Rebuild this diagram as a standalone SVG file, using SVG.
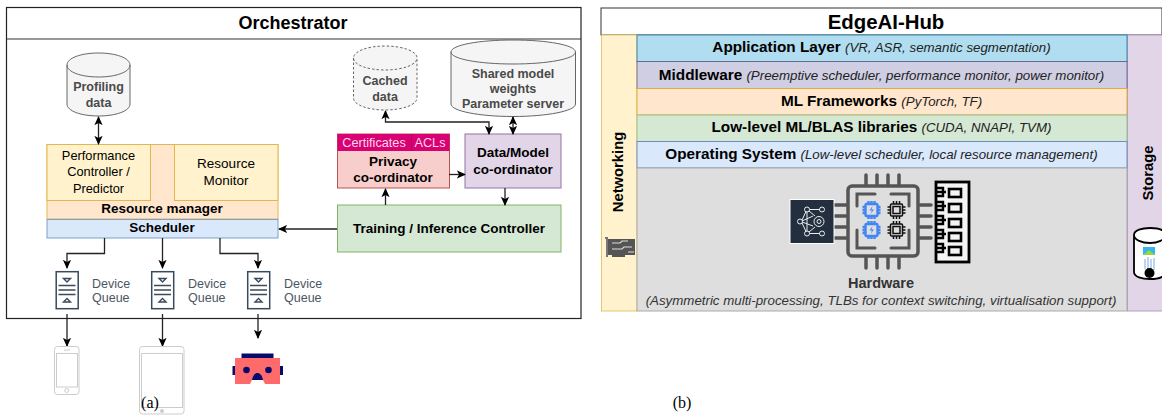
<svg xmlns="http://www.w3.org/2000/svg" width="1162" height="417" viewBox="0 0 1162 417">
<style>
text{font-family:"Liberation Sans",Arial,sans-serif;text-anchor:middle;fill:#000}
.b{font-weight:700}
.t12{font-size:12.8px}.t13{font-size:13.500px}
.l{font-size:15.300px;font-weight:700}
.i{font-size:13.300px;font-style:italic;font-weight:400;fill:#222}
.g{fill:#4a4a4a;font-weight:700;font-size:12.5px}
.dq{font-size:12.5px;fill:#4b5563;text-anchor:start}
.c{fill:none;stroke:#222;stroke-width:1.3}
.cyl{fill:#f5f5f5;stroke:#666;stroke-width:1}
.q{fill:none;stroke:#3a4a5c;stroke-width:1.4}
.hw{fill:none;stroke:#555;stroke-width:3.500;stroke-linecap:round}
.br{fill:none;stroke:#555;stroke-width:3;stroke-linecap:round}
.mem{fill:none;stroke:#000;stroke-width:2.600}
.blu{fill:none;stroke:#4285f4;stroke-width:2.400}
.blk{fill:none;stroke:#111;stroke-width:1.500}
.w{fill:none;stroke:#e8edf2;stroke-width:1}
</style>
<defs>
<marker id="a" viewBox="0 0 10 10" refX="9" refY="5" markerWidth="7" markerHeight="7" orient="auto-start-reverse"><path d="M0 0.5L10 5L0 9.5L2.5 5Z" fill="#000"/></marker>
<g id="dqi">
<rect x="0.7" y="0.7" width="22" height="37" fill="#fff" stroke="#3a4a5c" stroke-width="1.5"/>
<path d="M3 14.5H20M3 19H20M3 23.5H20" class="q"/>
<path d="M8 7.5H15L11.5 11Z M8 31H15L11.5 27.5Z" class="q"/>
</g>
<g id="chip"><rect x="0" y="0" width="12" height="12" rx="1"/><path d="M-3 3H0M-3 6H0M-3 9H0M12 3H15M12 6H15M12 9H15M3 -3V0M6 -3V0M9 -3V0M3 12V15M6 12V15M9 12V15"/></g>
</defs>

<g id="orchestrator">
<rect x="6.500" y="7.500" width="574.500" height="311" fill="#fff" stroke="#222" stroke-width="1.200"/>
<path d="M6.500 39H581" stroke="#333" stroke-width="1.200"/>
<text x="293" y="29" class="b" font-size="18">Orchestrator</text>
</g>

<g id="profiling-data">
<path class="cyl" d="M67 65V104C67 111 81 116 98.500 116S130 111 130 104V65C130 58 116 53 98.500 53S67 58 67 65C67 72 81 77 98.500 77S130 72 130 65"/>
<text x="98.500" y="91" class="g">Profiling</text><text x="98.500" y="107" class="g">data</text>
</g>

<g id="resource-manager">
<rect x="47" y="144.500" width="231" height="74.500" fill="#ffe6cc" stroke="#e3b74f" stroke-width="1"/>
<text x="162" y="213" class="b t13">Resource manager</text>
</g>
<g id="performance-controller">
<rect x="47" y="144.500" width="103.500" height="56" fill="#fff2cc" stroke="#e3b74f" stroke-width="1"/>
<text x="98.500" y="160" class="t12">Performance</text><text x="98.500" y="176" class="t12">Controller /</text><text x="98.500" y="193" class="t12">Predictor</text>
</g>
<g id="resource-monitor">
<rect x="174.500" y="144.500" width="103.500" height="56" fill="#fff2cc" stroke="#e3b74f" stroke-width="1"/>
<text x="226" y="168" class="t13">Resource</text><text x="226" y="185" class="t13">Monitor</text>
</g>
<g id="scheduler">
<rect x="47" y="219.500" width="231" height="18.500" fill="#dae8fc" stroke="#7f9fc9" stroke-width="1"/>
<text x="162" y="232" class="b t13">Scheduler</text>
</g>

<g id="cached-data">
<path d="M353.500 58V98C353.500 105 368 110 385 110S417 105 417 98V58C417 51 402 46 385 46S353.500 51 353.500 58C353.500 65 368 70 385 70S417 65 417 58" fill="#f5f5f5" stroke="#666" stroke-width="1" stroke-dasharray="2.500 2"/>
<text x="385" y="85" class="g">Cached</text><text x="385" y="101" class="g">data</text>
</g>
<g id="shared-model-weights">
<path class="cyl" d="M451 52V104C451 111 479 116.500 513 116.500S575.500 111 575.500 104V52C575.500 45 547 40 513 40S451 45 451 52C451 59 479 64 513 64S575.500 59 575.500 52"/>
<text x="513" y="78" class="g">Shared model</text><text x="513" y="93" class="g">weights</text><text x="513" y="108" class="g">Parameter server</text>
</g>

<g id="privacy-coordinator">
<rect x="337.500" y="134" width="112" height="54" fill="#f8cecc" stroke="#b85450" stroke-width="1"/>
<rect x="337.500" y="134" width="112" height="17" fill="#d80073"/>
<path d="M411.500 134V151" stroke="#b0005d" stroke-width="1"/>
<text x="374" y="147" font-size="12.700" style="fill:#ffd9ea">Certificates</text><text x="430" y="147" font-size="12.700" style="fill:#ffd9ea">ACLs</text>
<text x="393" y="166" class="b t13">Privacy</text><text x="393" y="182" class="b t13">co-ordinator</text>
</g>
<g id="data-model-coordinator">
<rect x="465" y="134" width="96" height="54" fill="#e1d5e7" stroke="#9673a6" stroke-width="1"/>
<text x="513" y="157" class="b t13">Data/Model</text><text x="513" y="174" class="b t13">co-ordinator</text>
</g>
<g id="training-controller">
<rect x="337.500" y="205" width="223.500" height="47" fill="#d5e8d4" stroke="#82b366" stroke-width="1"/>
<text x="449" y="233" class="b t13">Training / Inference Controller</text>
</g>

<g id="device-queue-1"><use href="#dqi" x="55.500" y="271"/><text x="92" y="288" class="dq">Device</text><text x="92" y="302" class="dq">Queue</text></g>
<g id="device-queue-2"><use href="#dqi" x="151" y="271"/><text x="188" y="288" class="dq">Device</text><text x="188" y="302" class="dq">Queue</text></g>
<g id="device-queue-3"><use href="#dqi" x="247" y="271"/><text x="284" y="288" class="dq">Device</text><text x="284" y="302" class="dq">Queue</text></g>

<g id="connectors">
<path class="c" d="M98.500 117V144" marker-start="url(#a)" marker-end="url(#a)"/>
<path class="c" d="M337 229H279" marker-end="url(#a)"/>
<path class="c" d="M104.500 238V253.500H67V268" marker-end="url(#a)"/>
<path class="c" d="M162.500 238V268" marker-end="url(#a)"/>
<path class="c" d="M220 238V253.500H258V268" marker-end="url(#a)"/>
<path class="c" d="M67 314V346" marker-end="url(#a)"/>
<path class="c" d="M162.500 314V346" marker-end="url(#a)"/>
<path class="c" d="M258 314V338" marker-end="url(#a)"/>
<path class="c" d="M385.500 205V189" marker-end="url(#a)"/>
<path class="c" d="M449 174.500H465" marker-end="url(#a)"/>
<path class="c" d="M505 188V205" marker-end="url(#a)"/>
<path class="c" d="M489 134V122H385.500V111" marker-start="url(#a)" marker-end="url(#a)"/>
<path class="c" d="M513 117V134" marker-start="url(#a)" marker-end="url(#a)"/>
</g>

<g id="phone">
<rect x="54.500" y="346.500" width="24.500" height="48" rx="3" fill="#fff" stroke="#ccc" stroke-width="1"/>
<rect x="56.500" y="353.500" width="21" height="33.500" fill="none" stroke="#ccc" stroke-width="1"/>
<circle cx="66.700" cy="390.500" r="2" fill="none" stroke="#ccc"/><path d="M64 350H70" stroke="#ccc"/>
</g>
<g id="tablet">
<rect x="139.500" y="346.500" width="44.500" height="67.500" rx="3" fill="#fff" stroke="#ccc" stroke-width="1"/>
<rect x="141.500" y="353.500" width="41" height="54" fill="none" stroke="#ccc" stroke-width="1"/>
<circle cx="162" cy="411" r="2" fill="#ccc"/>
</g>
<g id="vr-headset">
<rect x="241.500" y="353.500" width="32" height="5" fill="#0a0a6e"/>
<rect x="232.500" y="366" width="2.800" height="9" fill="#0a0a6e"/><rect x="280" y="366" width="3" height="9" fill="#0a0a6e"/>
<path d="M235 358H280V384H265L263 380H252L250 384H235Z" fill="#ff6b6b"/>
<path d="M252 380C253 375 255 373 257.500 373S262 375 263 380Z" fill="#0a0a6e"/>
<circle cx="246.500" cy="370" r="3.300" fill="#0a0a6e"/><circle cx="268.500" cy="370" r="3.300" fill="#0a0a6e"/>
</g>
<text x="150" y="408" font-size="16" style="font-family:'Liberation Serif',serif">(a)</text>

<g id="edgeai-hub">
<rect x="601" y="8" width="561" height="27" fill="#fff" stroke="#333" stroke-width="1"/>
<text x="886" y="29" class="b" font-size="20.400">EdgeAI-Hub</text>
</g>
<g id="networking">
<rect x="601.500" y="35" width="35.500" height="276" fill="#fff2cc" stroke="#e3c670" stroke-width="1"/>
<text transform="translate(623 172) rotate(-90)" class="b" font-size="14.800">Networking</text>
<path d="M605 237H608V257H606V239H605Z" fill="#777"/><rect x="608" y="239" width="27" height="16" fill="#555"/><rect x="612" y="255" width="13" height="2" fill="#555"/>
<path d="M612 243H620L622 241H628M612 249H622L624 247H632M628 252H634" stroke="#ddd" stroke-width="1.200" fill="none"/>
</g>
<g id="storage">
<rect x="1127.500" y="35" width="35" height="276" fill="#e1d5e7" stroke="#b59cc4" stroke-width="1"/>
<text transform="translate(1153 173) rotate(-90)" class="b" font-size="14.800">Storage</text>
<path d="M1134 235V272C1134 277 1142 279 1150 279S1165 277 1165 272V235C1165 230 1158 228 1150 228S1134 230 1134 235C1134 240 1142 243 1150 243S1165 240 1165 235" fill="#fff" stroke="#000" stroke-width="1.800"/>
<rect x="1143" y="247" width="12" height="8" fill="#35b6e8"/><path d="M1143 255L1149 250L1155 255Z" fill="#9ad63c"/>
<path d="M1145 259V269M1148 257V272M1151 259V269M1154 258V270" stroke="#7aa8e8" fill="none"/>
<circle cx="1149.500" cy="273" r="5" fill="#000"/>
</g>

<g id="application-layer">
<rect x="637" y="35" width="490" height="26.500" fill="#b1ddf0" stroke="#3d87ad" stroke-width="1"/>
<text x="881.500" y="52" class="l">Application Layer <tspan class="i">(VR, ASR, semantic segmentation)</tspan></text>
</g>
<g id="middleware">
<rect x="637" y="61.500" width="490" height="27" fill="#d0cee2" stroke="#56517e" stroke-width="1" stroke-opacity=".7"/>
<text x="881.500" y="80" class="l">Middleware <tspan class="i">(Preemptive scheduler, performance monitor, power monitor)</tspan></text>
</g>
<g id="ml-frameworks">
<rect x="637" y="88.500" width="490" height="26.500" fill="#ffe6cc" stroke="#e3aa3c" stroke-width="1"/>
<text x="881.500" y="106" class="l">ML Frameworks <tspan class="i">(PyTorch, TF)</tspan></text>
</g>
<g id="blas-libraries">
<rect x="637" y="115" width="490" height="26.500" fill="#d5e8d4" stroke="#9cc08a" stroke-width="1"/>
<text x="881.500" y="132" class="l">Low-level ML/BLAS libraries <tspan class="i">(CUDA, NNAPI, TVM)</tspan></text>
</g>
<g id="operating-system">
<rect x="637" y="141.500" width="490" height="26.500" fill="#dae8fc" stroke="#6c8ebf" stroke-width="1"/>
<text x="881.500" y="159" class="l">Operating System <tspan class="i">(Low-level scheduler, local resource management)</tspan></text>
</g>
<g id="hardware">
<rect x="637" y="168" width="490" height="143" fill="#dedede" stroke="#aaa" stroke-width="1"/>
<text x="881" y="288" class="b" font-size="14.500" style="fill:#333">Hardware</text>
<text x="881" y="305" class="i" style="fill:#333">(Asymmetric multi-processing, TLBs for context switching, virtualisation support)</text>
<rect x="848" y="186" width="70" height="70" rx="4" fill="none" stroke="#555" stroke-width="3.500"/>
<path class="hw" d="M866 175V185M877 175V185M888 175V185M899 175V185M866 258V268M877 258V268M888 258V268M899 258V268M835 205H846M835 216H846M835 227H846M835 238H846M920 205H931M920 216H931M920 227H931M920 238H931"/>
<path class="br" d="M875 194H857V206M891 194H909V206M875 248H857V230M891 248H909V230"/>
<g class="blu"><use href="#chip" x="865.500" y="204"/><use href="#chip" x="865.500" y="224"/></g>
<path d="M872.500 206L869.500 210.500H872L870.500 214L874 209.500H871.500ZM872.500 226L869.500 230.500H872L870.500 234L874 229.500H871.500Z" fill="#4285f4"/>
<g class="blk"><use href="#chip" x="890.500" y="204"/><use href="#chip" x="890.500" y="224"/></g>
<rect x="893" y="206.500" width="7" height="7" class="blk"/><rect x="893" y="226.500" width="7" height="7" class="blk"/>
<rect x="790" y="199.500" width="44" height="44" fill="#232f3e" stroke="#fff" stroke-width="1"/>
<g class="w"><circle cx="807" cy="209.500" r="2.500"/><circle cx="822" cy="209.500" r="2.500"/><circle cx="800" cy="221.500" r="2.500"/><circle cx="807" cy="233.500" r="2.500"/><circle cx="822" cy="233.500" r="2.500"/><circle cx="819" cy="221.500" r="5"/><circle cx="819" cy="221.500" r="2"/><path d="M809.500 209.500H819.500M802 220L806 211.500M802 223L806 231.500M802 221L813 216M802 222L813 226M809.500 233.500H819.500M807 212V231M809 211L815 216M809 232L815 227"/></g>
<rect x="936" y="182" width="33" height="80" fill="#f4f4f4" stroke="#000" stroke-width="2.800"/>
<path d="M936 188H943V196H936M936 202H943V210H936M936 216H943V224H936M936 230H943V238H936M936 244H943V252H936" fill="none" stroke="#000" stroke-width="2.400"/>
<path d="M936 192H946M936 206H946M936 220H946M936 234H946M936 248H946" stroke="#000" stroke-width="2.400"/>
<rect class="mem" x="949" y="189" width="12" height="8"/><rect class="mem" x="949" y="204" width="12" height="8"/><rect class="mem" x="949" y="219" width="12" height="8"/><rect class="mem" x="949" y="233" width="12" height="8"/><rect class="mem" x="949" y="247" width="12" height="8"/>
</g>
<text x="682" y="408" font-size="16" style="font-family:'Liberation Serif',serif">(b)</text>
</svg>
